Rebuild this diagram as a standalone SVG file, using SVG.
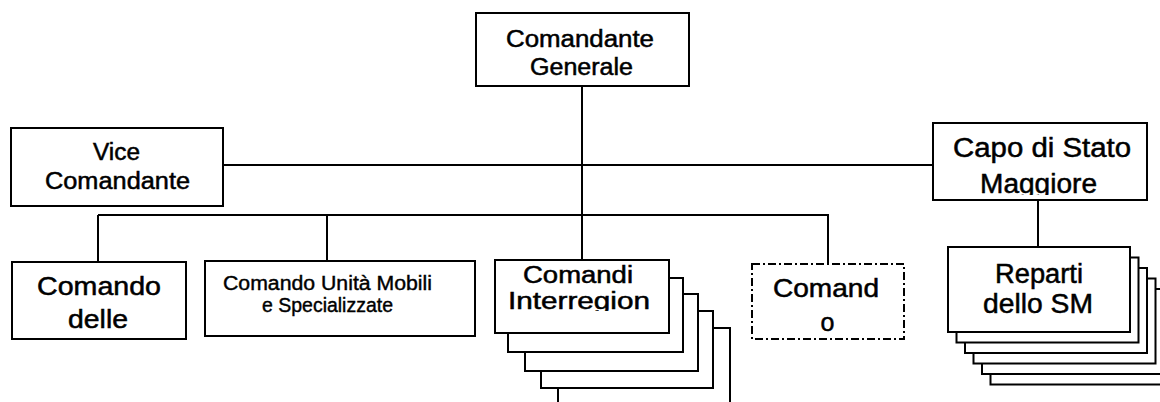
<svg xmlns="http://www.w3.org/2000/svg" width="1160" height="402" viewBox="0 0 1160 402">
<style>
  .box { fill: #fff; stroke: #000; stroke-width: 2; }
  .dash { fill: #fff; stroke: #000; stroke-width: 2; stroke-dasharray: 8 3 2 3; }
  .ln { stroke: #000; stroke-width: 2; fill: none; }
  text { font-family: "Liberation Sans", Arial, sans-serif; fill: #000; stroke: #000; stroke-width: 0.5; text-anchor: middle; }
  .t23 { font-size: 23px; }
  .t25 { font-size: 25px; }
  .t27 { font-size: 27px; }
  .t20 { font-size: 19.5px; stroke-width: 0.4; }
</style>
<defs>
  <clipPath id="clipCapo"><rect x="933" y="123" width="214" height="72"/></clipPath>
  <clipPath id="clipInter"><rect x="495" y="260" width="174" height="51"/></clipPath>
</defs>
<rect width="1160" height="402" fill="#fff"/>

<g id="connectors">
  <line class="ln" x1="582" y1="86" x2="582" y2="260"/>
  <line class="ln" x1="223" y1="165" x2="933" y2="165"/>
  <line class="ln" x1="98" y1="215" x2="829" y2="215"/>
  <line class="ln" x1="98" y1="215" x2="98" y2="262"/>
  <line class="ln" x1="327" y1="215" x2="327" y2="261"/>
  <line class="ln" x1="828" y1="215" x2="828" y2="264"/>
  <line class="ln" x1="1038" y1="200" x2="1038" y2="247"/>
</g>

<g id="comandante-generale">
  <rect class="box" x="476" y="13" width="213" height="73"/>
  <text class="t23" x="580" y="47" textLength="148" lengthAdjust="spacingAndGlyphs">Comandante</text>
  <text class="t23" x="581.5" y="74.5" textLength="103" lengthAdjust="spacingAndGlyphs">Generale</text>
</g>

<g id="vice-comandante">
  <rect class="box" x="11" y="128" width="212" height="78"/>
  <text class="t23" x="116.5" y="160" textLength="47" lengthAdjust="spacingAndGlyphs">Vice</text>
  <text class="t23" x="117.5" y="188.5" textLength="145" lengthAdjust="spacingAndGlyphs">Comandante</text>
</g>

<g id="capo-stato-maggiore">
  <rect class="box" x="933" y="123" width="214" height="77"/>
  <g clip-path="url(#clipCapo)">
    <text class="t27" x="1042" y="157" textLength="178" lengthAdjust="spacingAndGlyphs">Capo di Stato</text>
    <text class="t27" x="1038.5" y="193" textLength="117" lengthAdjust="spacingAndGlyphs">Maggiore</text>
  </g>
</g>

<g id="comando-delle">
  <rect class="box" x="12" y="262" width="174" height="77"/>
  <text class="t25" x="99" y="295" textLength="124" lengthAdjust="spacingAndGlyphs">Comando</text>
  <text class="t25" x="98" y="328" textLength="60" lengthAdjust="spacingAndGlyphs">delle</text>
</g>

<g id="comando-unita-mobili">
  <rect class="box" x="205" y="261" width="270" height="75"/>
  <text class="t20" x="327.5" y="290" textLength="209" lengthAdjust="spacingAndGlyphs">Comando Unità Mobili</text>
  <text class="t20" x="327.5" y="312" textLength="131" lengthAdjust="spacingAndGlyphs">e Specializzate</text>
</g>

<g id="comandi-interregionali">
  <rect class="box" x="558" y="328" width="172" height="90"/>
  <rect class="box" x="541" y="311" width="172" height="77"/>
  <rect class="box" x="525" y="294" width="173" height="77"/>
  <rect class="box" x="508" y="278" width="175" height="74"/>
  <rect class="box" x="495" y="260" width="174" height="73"/>
  <g clip-path="url(#clipInter)">
    <text class="t23" x="578" y="283" textLength="110" lengthAdjust="spacingAndGlyphs">Comandi</text>
    <text class="t23" x="579" y="309" textLength="142" lengthAdjust="spacingAndGlyphs">Interregion</text>
  </g>
</g>

<g id="comando-tratteggiato">
  <rect class="dash" x="752" y="264" width="152" height="75"/>
  <text class="t25" x="826" y="297" textLength="106" lengthAdjust="spacingAndGlyphs">Comand</text>
  <text class="t25" x="827.5" y="331">o</text>
</g>

<g id="reparti-sm">
  <rect class="box" x="990.5" y="299.5" width="182" height="85"/>
  <rect class="box" x="982" y="289" width="182" height="85"/>
  <rect class="box" x="973.5" y="278.5" width="182" height="85"/>
  <rect class="box" x="965" y="268" width="182" height="85"/>
  <rect class="box" x="956.5" y="257.5" width="182" height="85"/>
  <rect class="box" x="948" y="247" width="182" height="85"/>
  <text class="t27" x="1039" y="283" textLength="88" lengthAdjust="spacingAndGlyphs">Reparti</text>
  <text class="t27" x="1038" y="313" textLength="110" lengthAdjust="spacingAndGlyphs">dello SM</text>
</g>
</svg>
